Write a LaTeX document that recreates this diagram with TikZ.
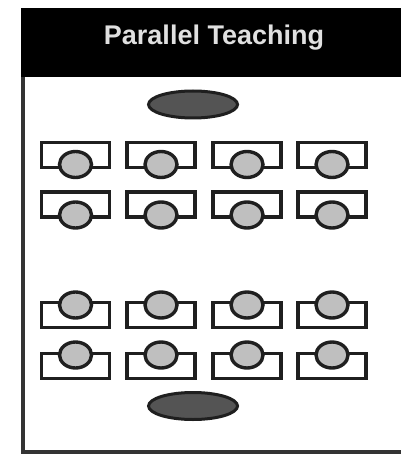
\documentclass[tikz,border=0pt]{standalone}
\usepackage{fontspec}
\setmainfont{Liberation Sans}
\usetikzlibrary{shapes.geometric}
\definecolor{seatgray}{gray}{0.75}
\definecolor{leadgray}{gray}{0.33}
\definecolor{inkgray}{gray}{0.12}
\tikzset{
  desk/.style={draw=inkgray,line width=3.4pt,fill=white,minimum width=68pt,minimum height=25pt,inner sep=0pt,outer sep=0pt},
  seat/.style={ellipse,draw=inkgray,line width=3.4pt,fill=seatgray,minimum width=32pt,minimum height=26pt,inner sep=0pt,outer sep=0pt},
  lead/.style={ellipse,draw=inkgray,line width=3pt,fill=leadgray,minimum width=89pt,minimum height=27pt,inner sep=0pt,outer sep=0pt},
  frameline/.style={draw=black!80,line width=4pt}
}
\begin{document}
\begin{tikzpicture}[x=1pt,y=-1pt]
\useasboundingbox (0,0) rectangle (401,454);
\fill[white] (0,0) rectangle (401,454);
\coordinate (tl) at (23,76);
\coordinate (bl) at (23,452);
\coordinate (br) at (401,452);
\draw[frameline] (tl) -- (bl) -- (br);
\node[fill=black,minimum width=380pt,minimum height=69pt,inner sep=0pt,outer sep=0pt,anchor=north west] (head) at (21,8) {};
\node[text=white!88!black,font=\fontsize{27pt}{30pt}\selectfont\bfseries] (title) at (214,38) {Parallel Teaching};
\node[lead] (t1) at (193,104.5) {};
\node[lead] (t2) at (193,406) {};
\foreach \cx [count=\i] in {75.5,161,247,332}{
  \node[desk] (da\i) at (\cx,155) {};
  \node[seat] (sa\i) at (\cx,164.5) {};
  \node[desk] (db\i) at (\cx,204.5) {};
  \node[seat] (sb\i) at (\cx,215) {};
  \node[desk] (dc\i) at (\cx,315) {};
  \node[seat] (sc\i) at (\cx,305) {};
  \node[desk] (dd\i) at (\cx,366) {};
  \node[seat] (sd\i) at (\cx,355) {};
}
\end{tikzpicture}
\end{document}
